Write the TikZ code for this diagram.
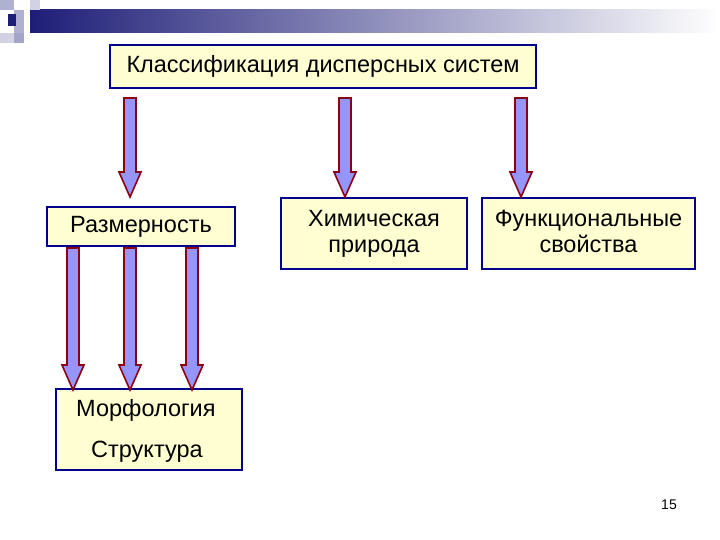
\documentclass[tikz,border=0pt]{standalone}
\usepackage{fontspec}
\setmainfont{Liberation Sans}
\begin{document}
\begin{tikzpicture}[x=1pt,y=-1pt,
  box/.style={draw=navy,fill=boxy,line width=2.2pt,inner sep=0pt,font=\fontsize{23.5}{28}\selectfont},
  ]
\definecolor{navy}{RGB}{0,0,140}
\definecolor{boxy}{RGB}{255,255,210}
\definecolor{arrfill}{RGB}{150,150,250}
\definecolor{arredge}{RGB}{140,0,20}
\definecolor{bar}{RGB}{30,30,120}
\useasboundingbox[fill=white] (0,0) rectangle (720,540);
% banner
\shade[left color=bar,right color=white] (30,10) rectangle (720,33);
\fill[bar!35] (0,0) rectangle (14,10);
\fill[bar!35] (14,10) rectangle (24,33);
\fill[bar!20] (30,0) rectangle (40,10);
\fill[bar!40] (14,33) rectangle (24,43);
\fill[bar!20] (0,33) rectangle (14,43);
\fill[bar] (8,14) rectangle (16,26);
% boxes
\node[box,minimum width=426,minimum height=43] (cls) at (323,66.5) {\raisebox{-3pt}{Классификация дисперсных систем}};
\node[box,minimum width=188,minimum height=39] (raz) at (141,226.5) {\raisebox{-3pt}{Размерность}};
\node[box,minimum width=186,minimum height=71] (him) at (374,233.5) {\raisebox{-4pt}{\begin{tabular}{@{}c@{}}Химическая\\[-2pt]природа\end{tabular}}};
\node[box,minimum width=213,minimum height=71] (fun) at (588.5,233.5) {\raisebox{-4pt}{\begin{tabular}{@{}c@{}}Функциональные\\[-2pt]свойства\end{tabular}}};
\node[box,minimum width=186,minimum height=81] (mor) at (149,429.5) {};
\node[font=\fontsize{23.5}{28}\selectfont,anchor=west,inner sep=0pt] (m1) at (76,410) {Морфология};
\node[font=\fontsize{23.5}{28}\selectfont,anchor=west,inner sep=0pt] (m2) at (91,452) {Структура};
\node[font=\fontsize{14}{16}\selectfont] (pg) at (669,505) {15};
% block arrows
\newcommand\barrow[3]{%
 \filldraw[fill=arrfill,draw=arredge,line width=1.6pt,line join=miter]
  (#1-6,#2) -- (#1+6,#2) -- (#1+6,#3-25) -- (#1+11,#3-25) -- (#1,#3) -- (#1-11,#3-25) -- (#1-6,#3-25) -- cycle;}
\barrow{130}{98}{197}
\barrow{345}{98}{197}
\barrow{521}{98}{197}
\barrow{73}{248}{390}
\barrow{130}{248}{390}
\barrow{192}{248}{390}
\end{tikzpicture}
\end{document}
